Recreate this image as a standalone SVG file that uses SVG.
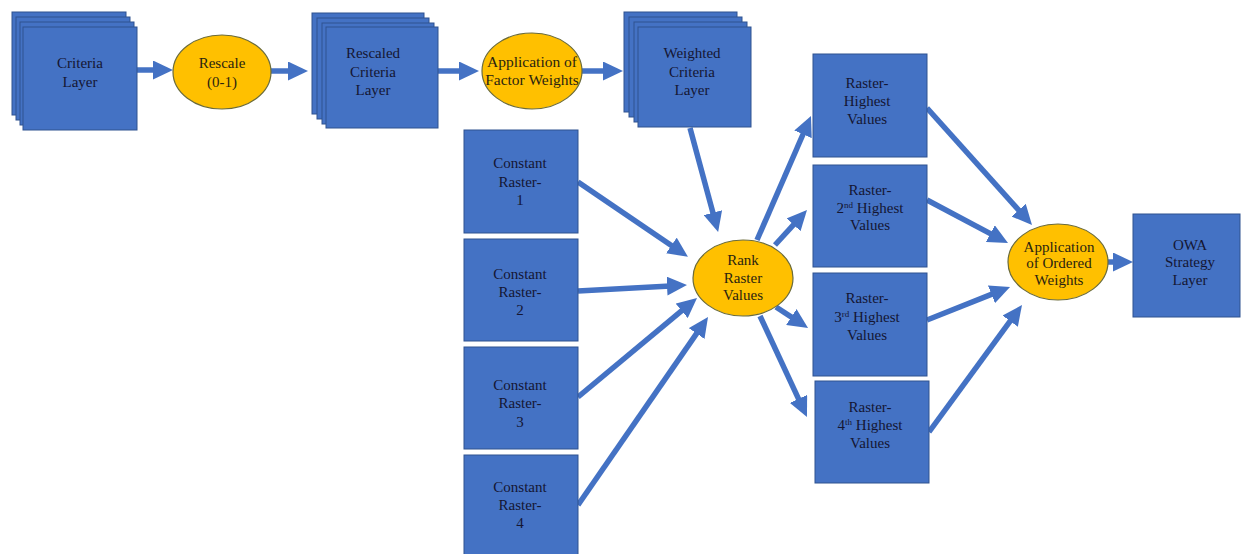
<svg xmlns="http://www.w3.org/2000/svg" width="1241" height="554" viewBox="0 0 1241 554">
<style>
.box{fill:#4472C4;stroke:#2F528F;stroke-width:1}
.ell{fill:#FFC000;stroke:#6B6B3A;stroke-width:1.2}
.t{font-family:"Liberation Serif","Times New Roman",serif;font-size:15px;fill:#141633;text-anchor:middle}
.et{font-family:"Liberation Serif","Times New Roman",serif;font-size:15px;fill:#2a2410;text-anchor:middle}
.c{stroke:#4472C4;stroke-width:5.5;fill:none;marker-end:url(#ah)}
.sup{font-size:9px}
</style>
<defs>
<marker id="ah" markerUnits="userSpaceOnUse" markerWidth="20" markerHeight="19" viewBox="0 0 20 19" refX="8" refY="9.5" orient="auto">
<path d="M0,0 L20,9.5 L0,19 z" fill="#4472C4"/>
</marker>
</defs>
<g id="connectors">
<line class="c" x1="137" y1="70" x2="161" y2="70"/>
<line class="c" x1="271" y1="71" x2="296" y2="71"/>
<line class="c" x1="438" y1="71" x2="467" y2="71"/>
<line class="c" x1="582" y1="71" x2="611" y2="71"/>
<line class="c" x1="690" y1="128" x2="715" y2="220.4"/>
<line class="c" x1="578" y1="182" x2="678" y2="250"/>
<line class="c" x1="578" y1="291" x2="675" y2="285.7"/>
<line class="c" x1="578" y1="397" x2="687.8" y2="305.7"/>
<line class="c" x1="578" y1="505" x2="701.2" y2="326.9"/>
<line class="c" x1="757" y1="240" x2="806.2" y2="127"/>
<line class="c" x1="775" y1="245" x2="798.9" y2="218.9"/>
<line class="c" x1="776" y1="307" x2="798" y2="321.4"/>
<line class="c" x1="760" y1="316" x2="801.9" y2="406.1"/>
<line class="c" x1="927" y1="108" x2="1024" y2="216.1"/>
<line class="c" x1="927" y1="200" x2="997.4" y2="237.4"/>
<line class="c" x1="927" y1="320" x2="998.9" y2="291.4"/>
<line class="c" x1="929" y1="432" x2="1014.9" y2="314.7"/>
<line class="c" x1="1108" y1="262" x2="1121" y2="262"/>
</g>
<g id="criteria-layer">
<rect class="box" x="12" y="12" width="114" height="103"/>
<rect class="box" x="16" y="17" width="114" height="103"/>
<rect class="box" x="20" y="22" width="114" height="103"/>
<rect class="box" x="23" y="27" width="114" height="103"/>
<text class="t" x="80" y="68">Criteria</text>
<text class="t" x="80" y="87">Layer</text>
</g>
<g id="rescale">
<ellipse class="ell" cx="222" cy="72" rx="49" ry="37"/>
<text class="et" x="222" y="68">Rescale</text>
<text class="et" x="222" y="87">(0-1)</text>
</g>
<g id="rescaled-criteria-layer">
<rect class="box" x="312" y="13" width="112" height="101"/>
<rect class="box" x="317" y="18" width="112" height="101"/>
<rect class="box" x="322" y="23" width="112" height="101"/>
<rect class="box" x="326" y="27" width="112" height="101"/>
<text class="t" x="373" y="58">Rescaled</text>
<text class="t" x="373" y="77">Criteria</text>
<text class="t" x="373" y="95">Layer</text>
</g>
<g id="factor-weights">
<ellipse class="ell" cx="532" cy="71" rx="50" ry="38"/>
<text class="et" x="532" y="67" style="font-size:15.5px">Application of</text>
<text class="et" x="532" y="85" style="font-size:15.5px">Factor Weights</text>
</g>
<g id="weighted-criteria-layer">
<rect class="box" x="624" y="12" width="113" height="100"/>
<rect class="box" x="629" y="17" width="113" height="100"/>
<rect class="box" x="634" y="22" width="113" height="100"/>
<rect class="box" x="638" y="27" width="113" height="100"/>
<text class="t" x="692" y="58">Weighted</text>
<text class="t" x="692" y="77">Criteria</text>
<text class="t" x="692" y="95">Layer</text>
</g>
<g id="constant-raster-1">
<rect class="box" x="464" y="130" width="114" height="103"/>
<text class="t" x="520" y="168">Constant</text>
<text class="t" x="520" y="187">Raster-</text>
<text class="t" x="520" y="205">1</text>
</g>
<g id="constant-raster-2">
<rect class="box" x="464" y="239" width="114" height="102"/>
<text class="t" x="520" y="279">Constant</text>
<text class="t" x="520" y="297">Raster-</text>
<text class="t" x="520" y="315">2</text>
</g>
<g id="constant-raster-3">
<rect class="box" x="464" y="347" width="114" height="102"/>
<text class="t" x="520" y="390">Constant</text>
<text class="t" x="520" y="408">Raster-</text>
<text class="t" x="520" y="427">3</text>
</g>
<g id="constant-raster-4">
<rect class="box" x="464" y="455" width="114" height="105"/>
<text class="t" x="520" y="492">Constant</text>
<text class="t" x="520" y="510">Raster-</text>
<text class="t" x="520" y="528">4</text>
</g>
<g id="rank-raster-values">
<ellipse class="ell" cx="743" cy="278" rx="50" ry="38"/>
<text class="et" x="743" y="265">Rank</text>
<text class="et" x="743" y="283">Raster</text>
<text class="et" x="743" y="300">Values</text>
</g>
<g id="raster-highest">
<rect class="box" x="813" y="54" width="114" height="103"/>
<text class="t" x="867" y="88">Raster-</text>
<text class="t" x="867" y="106">Highest</text>
<text class="t" x="867" y="124">Values</text>
</g>
<g id="raster-2nd">
<rect class="box" x="813" y="165" width="114" height="102"/>
<text class="t" x="870" y="195">Raster-</text>
<text class="t" x="870" y="213">2<tspan class="sup" dy="-5">nd</tspan><tspan dy="5"> Highest</tspan></text>
<text class="t" x="870" y="230">Values</text>
</g>
<g id="raster-3rd">
<rect class="box" x="813" y="273" width="114" height="103"/>
<text class="t" x="867" y="303">Raster-</text>
<text class="t" x="867" y="322">3<tspan class="sup" dy="-5">rd</tspan><tspan dy="5"> Highest</tspan></text>
<text class="t" x="867" y="340">Values</text>
</g>
<g id="raster-4th">
<rect class="box" x="815" y="381" width="114" height="102"/>
<text class="t" x="870" y="412">Raster-</text>
<text class="t" x="870" y="430">4<tspan class="sup" dy="-5">th</tspan><tspan dy="5"> Highest</tspan></text>
<text class="t" x="870" y="448">Values</text>
</g>
<g id="ordered-weights">
<ellipse class="ell" cx="1058" cy="262" rx="50" ry="38"/>
<text class="et" x="1059" y="252">Application</text>
<text class="et" x="1059" y="268">of Ordered</text>
<text class="et" x="1059" y="285">Weights</text>
</g>
<g id="owa-strategy-layer">
<rect class="box" x="1133" y="214" width="107" height="103"/>
<text class="t" x="1190" y="250">OWA</text>
<text class="t" x="1190" y="267">Strategy</text>
<text class="t" x="1190" y="285">Layer</text>
</g>
</svg>
